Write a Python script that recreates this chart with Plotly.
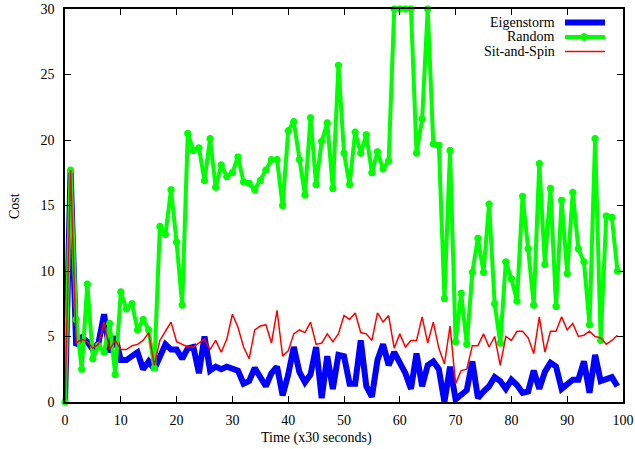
import plotly.graph_objects as go

time = list(range(100))

eigenstorm = [0, 17.7, 4.3, 4.9, 4.6, 4.0, 4.5, 6.7, 3.8, 5.0,
              3.2, 3.2, 3.5, 3.8, 2.5, 3.1, 2.5, 3.6, 4.4, 4.0,
              4.0, 3.3, 4.1, 4.2, 2.2, 5.0, 2.4, 2.7, 2.5, 2.7,
              2.6, 2.4, 1.4, 1.6, 2.6, 1.9, 1.2, 2.2, 2.7, 0.5,
              2.1, 4.2, 2.3, 1.5, 2.1, 4.2, 0.3, 3.5, 1.0, 3.6,
              3.5, 1.4, 1.4, 4.7, 1.2, 0.4, 3.2, 4.4, 2.8, 3.8,
              3.0, 2.2, 1.0, 3.7, 1.2, 2.8, 3.1, 2.5, 0.0, 2.7,
              0.2, 0.5, 0.9, 3.1, 0.3, 0.8, 1.2, 1.9, 1.6, 1.0,
              1.7, 1.3, 0.7, 0.8, 2.4, 1.0, 2.3, 3.0, 2.7, 1.0,
              1.3, 1.7, 1.7, 3.1, 0.7, 3.6, 1.6, 1.7, 1.9, 1.2]

random_cost = [0, 17.7, 6.3, 2.5, 9.0, 3.3, 4.3, 3.8, 6.0, 2.1,
               8.4, 7.1, 7.5, 5.5, 6.3, 5.5, 2.6, 13.4, 12.8, 16.2,
               12.2, 7.4, 20.5, 19.2, 19.4, 16.9, 20.1, 16.4, 18.1, 17.2,
               17.5, 18.7, 16.8, 16.7, 16.2, 16.9, 17.7, 18.5, 18.5, 15.0,
               20.7, 21.4, 18.5, 15.8, 21.7, 16.6, 19.9, 21.3, 16.3, 25.7,
               19.0, 16.6, 20.6, 19.0, 20.4, 17.5, 19.1, 17.8, 18.4, 30,
               30, 30, 30, 19.0, 21.6, 30, 19.7, 19.6, 7.9, 19.2,
               4.6, 8.3, 4.4, 9.9, 12.5, 9.9, 15.1, 7.5, 4.5, 10.7,
               9.4, 7.7, 15.7, 11.7, 7.4, 18.2, 10.5, 16.3, 7.3, 15.4,
               9.8, 16.0, 11.7, 10.7, 5.9, 20.1, 4.7, 14.2, 14.1, 10.0]

sit_and_spin = [0, 17.7, 4.5, 4.8, 4.6, 4.1, 4.4, 6.1, 4.0, 4.7,
                4.0, 4.0, 4.3, 4.4, 4.7, 5.3, 2.8, 4.7, 5.4, 6.1,
                4.6, 4.4, 4.2, 4.2, 4.5, 4.8, 4.0, 4.7, 3.8, 4.8,
                6.7, 5.7, 4.2, 3.3, 5.5, 5.8, 5.9, 4.5, 7.0, 3.5,
                3.9, 5.2, 5.5, 5.3, 6.1, 4.4, 4.5, 5.2, 4.6, 5.2,
                6.6, 6.3, 6.8, 5.3, 5.2, 4.7, 6.8, 6.1, 6.6, 4.1,
                5.2, 4.2, 4.7, 4.7, 6.5, 4.5, 6.1, 4.1, 2.9, 5.8,
                1.4, 2.4, 2.5, 4.3, 4.3, 5.2, 4.2, 5.0, 2.8, 5.0,
                4.7, 5.4, 5.4, 4.9, 3.7, 6.5, 3.8, 5.4, 5.4, 6.5,
                5.5, 6.0, 5.0, 5.1, 5.4, 5.0, 4.9, 4.4, 4.7, 5.1]

x_ticks = [0, 10, 20, 30, 40, 50, 60, 70, 80, 90, 100]
y_ticks = [0, 5, 10, 15, 20, 25, 30]
legend_labels = ["Eigenstorm", "Random", "Sit-and-Spin"]

BLUE = "#0000ff"
GREEN = "#00ff00"
RED = "#ff0000"
FONT = "Liberation Serif"

fig = go.Figure()
fig.add_trace(go.Scatter(x=time, y=eigenstorm, mode="lines", name=legend_labels[0],
                         line=dict(color=BLUE, width=6), showlegend=False))
fig.add_trace(go.Scatter(x=time, y=random_cost, mode="lines+markers", name=legend_labels[1],
                         line=dict(color=GREEN, width=4),
                         marker=dict(symbol="asterisk-open", size=6, color=GREEN,
                                     line=dict(color=GREEN, width=2.5)),
                         cliponaxis=False, showlegend=False))
fig.add_trace(go.Scatter(x=time, y=sit_and_spin, mode="lines", name=legend_labels[2],
                         line=dict(color=RED, width=1.5), showlegend=False))

FIG_W, FIG_H = 635, 449
# Plot area in pixels: x 65..623, y 9..402
L, R, T, B = 65, 623, 9, 402
W, H = R - L, B - T

def px(xp):
    return (xp - L) / W

def py(yp):
    return (B - yp) / H

rows = [22.5, 37, 51.5]
colors = [BLUE, GREEN, RED]
widths = [6, 4, 1.5]
for label, yy, c, w in zip(legend_labels, rows, colors, widths):
    fig.add_annotation(x=px(557), y=py(yy), xref="paper", yref="paper", text=label,
                       showarrow=False, xanchor="right", yanchor="middle",
                       font=dict(family=FONT, size=14, color="black"))
    fig.add_shape(type="line", xref="paper", yref="paper",
                  x0=px(565), x1=px(605), y0=py(yy), y1=py(yy),
                  line=dict(color=c, width=w))
fig.add_shape(type="circle", xref="paper", yref="paper",
              x0=px(581), x1=px(587), y0=py(rows[1] + 3.5), y1=py(rows[1] - 3.5),
              fillcolor=GREEN, line=dict(color=GREEN, width=1))

# axis titles
fig.add_annotation(x=px(316), y=py(438), xref="paper", yref="paper", text="Time (x30 seconds)",
                   showarrow=False, xanchor="center", yanchor="middle",
                   font=dict(family=FONT, size=14, color="black"))
fig.add_annotation(x=px(14), y=py(206), xref="paper", yref="paper", text="Cost",
                   showarrow=False, xanchor="center", yanchor="middle", textangle=-90,
                   font=dict(family=FONT, size=14, color="black"))

axis_common = dict(showline=True, linecolor="black", linewidth=1.5, mirror="ticks",
                   ticks="inside", ticklen=6, tickwidth=1, tickcolor="black",
                   showgrid=False, zeroline=False, automargin=False,
                   tickfont=dict(family=FONT, size=14, color="black"))

fig.update_xaxes(range=[0, 100], tickvals=x_ticks, ticklabelstandoff=4, **axis_common)
fig.update_yaxes(range=[0, 30], tickvals=y_ticks, ticklabelstandoff=6, **axis_common)

fig.update_layout(width=FIG_W, height=FIG_H,
                  margin=dict(l=L, r=FIG_W - R, t=T, b=FIG_H - B, autoexpand=False),
                  plot_bgcolor="white", paper_bgcolor="white",
                  font=dict(family=FONT, size=14, color="black"))

fig.write_html("out.html",
               config={"displayModeBar": False},
               post_script="document.body.style.margin='0';document.body.style.overflow='hidden';")
